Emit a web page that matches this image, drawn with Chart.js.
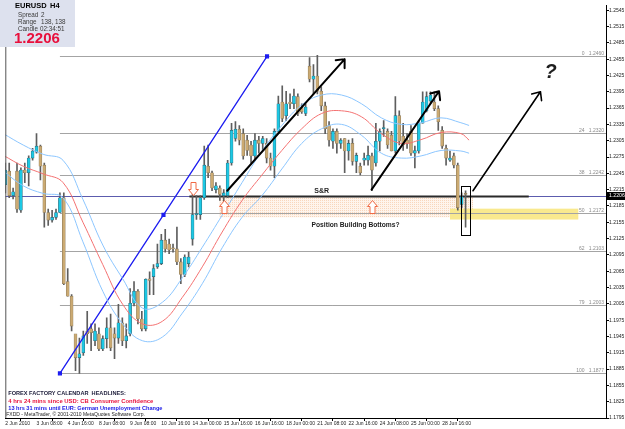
<!DOCTYPE html>
<html><head><meta charset="utf-8">
<script src="https://cdn.jsdelivr.net/npm/chart.js@4.4.1/dist/chart.umd.min.js"></script>
<style>html,body{margin:0;padding:0;background:#fff;overflow:hidden}#wrap{width:625px;height:429px;position:relative}</style>
</head><body><div id="wrap"><canvas id="c" width="625" height="429"></canvas></div>
<script>
// ---------- DATA ----------
const opens  = [1.2224,1.2249,1.2204,1.2249,1.2177,1.2251,1.2246,1.2273,1.2284,1.2295,1.2260,1.2173,1.2159,1.2164,1.2173,1.2200,1.2046,1.2019,1.1950,1.1906,1.1915,1.1955,1.1959,1.1937,1.1950,1.1922,1.1941,1.1961,1.1950,1.1942,1.1970,1.1937,1.1950,1.2006,1.2028,1.1977,1.1959,1.2051,1.2055,1.2073,1.2079,1.2122,1.2115,1.2108,1.2106,1.2082,1.2059,1.2079,1.2124,1.2169,1.2169,1.2200,1.2258,1.2246,1.2215,1.2218,1.2204,1.2204,1.2264,1.2309,1.2326,1.2318,1.2306,1.2297,1.2277,1.2306,1.2300,1.2300,1.2273,1.2258,1.2322,1.2376,1.2351,1.2376,1.2373,1.2386,1.2366,1.2355,1.2442,1.2418,1.2424,1.2396,1.2369,1.2333,1.2304,1.2322,1.2300,1.2309,1.2286,1.2300,1.2267,1.2258,1.2269,1.2269,1.2277,1.2264,1.2304,1.2327,1.2322,1.2315,1.2286,1.2351,1.2313,1.2306,1.2322,1.2282,1.2286,1.2337,1.2360,1.2378,1.2376,1.2364,1.2324,1.2291,1.2269,1.2277,1.2260,1.2188,1.2208];
const highs  = [1.2264,1.2264,1.2218,1.2264,1.2255,1.2264,1.2277,1.2291,1.2318,1.2297,1.2264,1.2179,1.2177,1.2179,1.2209,1.2209,1.2070,1.2022,1.1942,1.1942,1.1955,1.1991,1.1968,1.1968,1.1961,1.1946,1.1979,1.1986,1.1961,1.2004,1.1979,1.1968,1.2033,1.2046,1.2031,1.1991,1.2051,1.2064,1.2077,1.2115,1.2133,1.2142,1.2124,1.2115,1.2146,1.2088,1.2095,1.2100,1.2222,1.2204,1.2204,1.2295,1.2297,1.2249,1.2228,1.2222,1.2215,1.2269,1.2337,1.2340,1.2333,1.2327,1.2315,1.2304,1.2318,1.2313,1.2313,1.2309,1.2282,1.2327,1.2387,1.2406,1.2396,1.2391,1.2400,1.2391,1.2373,1.2373,1.2458,1.2445,1.2462,1.2404,1.2376,1.2340,1.2327,1.2327,1.2309,1.2309,1.2306,1.2309,1.2282,1.2264,1.2282,1.2295,1.2282,1.2337,1.2327,1.2342,1.2327,1.2322,1.2386,1.2360,1.2337,1.2318,1.2333,1.2295,1.2342,1.2395,1.2395,1.2395,1.2395,1.2369,1.2331,1.2297,1.2286,1.2282,1.2264,1.2209,1.2213];
const lows   = [1.2209,1.2200,1.2198,1.2173,1.2173,1.2228,1.2222,1.2269,1.2282,1.2233,1.2146,1.2149,1.2155,1.2160,1.2173,1.2040,1.2019,1.1955,1.1882,1.1877,1.1910,1.1932,1.1919,1.1928,1.1919,1.1919,1.1924,1.1919,1.1904,1.1932,1.1928,1.1924,1.1946,1.2001,1.1968,1.1955,1.1955,1.2022,1.2022,1.2070,1.2077,1.2100,1.2097,1.2100,1.2077,1.2042,1.2055,1.2073,1.2113,1.2160,1.2160,1.2197,1.2237,1.2213,1.2209,1.2195,1.2182,1.2200,1.2260,1.2304,1.2297,1.2271,1.2278,1.2264,1.2269,1.2282,1.2287,1.2264,1.2251,1.2237,1.2318,1.2340,1.2342,1.2364,1.2364,1.2351,1.2355,1.2351,1.2413,1.2391,1.2391,1.2360,1.2318,1.2295,1.2291,1.2282,1.2291,1.2246,1.2269,1.2260,1.2246,1.2242,1.2260,1.2260,1.2213,1.2258,1.2286,1.2313,1.2291,1.2286,1.2282,1.2297,1.2287,1.2291,1.2278,1.2255,1.2282,1.2337,1.2358,1.2373,1.2360,1.2324,1.2291,1.2260,1.2267,1.2255,1.2177,1.2182,1.2146];
const closes = [1.2251,1.2204,1.2211,1.2179,1.2251,1.2246,1.2273,1.2286,1.2295,1.2258,1.2173,1.2159,1.2164,1.2173,1.2200,1.2042,1.2019,1.1964,1.1906,1.1913,1.1946,1.1950,1.1952,1.1955,1.1922,1.1941,1.1961,1.1924,1.1942,1.1970,1.1937,1.1946,1.2006,1.2028,1.1977,1.1959,1.2050,1.2048,1.2070,1.2079,1.2122,1.2106,1.2104,1.2106,1.2082,1.2059,1.2091,1.2091,1.2169,1.2171,1.2200,1.2260,1.2246,1.2218,1.2222,1.2206,1.2209,1.2264,1.2324,1.2326,1.2306,1.2277,1.2287,1.2277,1.2306,1.2300,1.2309,1.2273,1.2258,1.2322,1.2373,1.2346,1.2373,1.2373,1.2387,1.2355,1.2358,1.2367,1.2418,1.2424,1.2396,1.2369,1.2327,1.2306,1.2322,1.2300,1.2306,1.2286,1.2300,1.2267,1.2278,1.2246,1.2273,1.2278,1.2251,1.2304,1.2322,1.2329,1.2297,1.2286,1.2351,1.2304,1.2297,1.2300,1.2282,1.2287,1.2337,1.2376,1.2386,1.2389,1.2364,1.2340,1.2295,1.2273,1.2273,1.2260,1.2182,1.2202,1.2206];

const xTickBars   = [0,8,16,24,32,40,48,56,64,72,80,88,96,104,112];
const xTickLabels = ["2 Jun 2010","3 Jun 08:00","4 Jun 16:00","8 Jun 08:00","9 Jun 08:00","10 Jun 16:00","14 Jun 00:00","15 Jun 16:00","16 Jun 16:00","18 Jun 00:00","21 Jun 08:00","22 Jun 16:00","24 Jun 08:00","25 Jun 00:00","28 Jun 16:00"];
const yTicks = [1.2545,1.2515,1.2485,1.2455,1.2425,1.2395,1.2365,1.2335,1.2305,1.2275,1.2245,1.2215,1.2185,1.2155,1.2125,1.2095,1.2065,1.2035,1.2005,1.1975,1.1945,1.1915,1.1885,1.1855,1.1825,1.1795];

const bandX     = [-0.5,4.6,9.7,14.8,19.9,25.0,30.1,35.2,40.3,45.4,50.5,55.6,60.7,65.8,70.9,76.0,81.1,86.2,91.3,96.4,101.5,106.6,111.7,116.8,118.9];
const bandMid   = [1.2278,1.2258,1.2244,1.2228,1.2155,1.2077,1.2004,1.1968,1.1973,1.2017,1.2073,1.2137,1.2195,1.2242,1.2287,1.2327,1.2355,1.2360,1.2349,1.2318,1.2300,1.2307,1.2320,1.2318,1.2306];
const bandUpper = [1.2318,1.2297,1.2280,1.2269,1.2197,1.2113,1.2051,1.1997,1.2008,1.2053,1.2109,1.2168,1.2228,1.2286,1.2333,1.2371,1.2389,1.2389,1.2373,1.2347,1.2335,1.2338,1.2347,1.2338,1.2333];
const bandLower = [1.2249,1.2222,1.2208,1.2200,1.2119,1.2028,1.1968,1.1937,1.1944,1.1988,1.2042,1.2108,1.2164,1.2204,1.2253,1.2300,1.2327,1.2335,1.2315,1.2282,1.2273,1.2277,1.2287,1.2286,1.2282];

const fibLevels = [1.2460,1.2320,1.2242,1.2172,1.2103,1.2003,1.1877];
const fibNames  = ["0","24","38","50","62","79","100"];
const currentPrice = 1.2206;
const srLevel = 1.2203;

// ---------- ANNOTATION PLACEMENT (data units: bar index, price) ----------
const fibStartBar = 14.0, fibEndBar = 67.1;
const srRange = [47.2, 134.2];
const orangeZone = {x0:54.8, x1:119.9, y0:1.2202, y1:1.2164};
const yellowZone = {x0:114.0, x1:146.9, y0:1.2180, y1:1.2160};
const focusBox   = {x0:116.8, x1:119.1, y0:1.2222, y1:1.2131};
const blackArrows = [
  {from:[56.9,1.2213], to:[87.0,1.2455], w:2},
  {from:[93.9,1.2215], to:[111.2,1.2396], w:2},
  {from:[119.9,1.2213], to:[137.2,1.2395], w:1.6}
];
const hollowArrows = [
  {at:[48.0,1.2206], dir:'down'},
  {at:[56.1,1.2196], dir:'up'},
  {at:[93.9,1.2196], dir:'up'}
];
const notes = [
  {text:'S&R', at:[81.1,1.2213], font:'bold 7px "Liberation Sans", Arial, sans-serif'},
  {text:'Position Building Bottoms?', at:[89.8,1.2149], font:'bold 6.7px "Liberation Sans", Arial, sans-serif'},
  {text:'?', at:[139.8,1.2430], font:'italic bold 20px "Liberation Sans", Arial, sans-serif'}
];

// ---------- BUILD ----------
const idx = opens.map((_, i) => i);
const wickData = idx.map(i => ({x:i, y:[lows[i], highs[i]]}));
const bodyData = idx.map(i => ({x:i, y:[opens[i], closes[i]]}));
const bodyFill = idx.map(i => closes[i] >= opens[i] ? '#1cc8e4' : '#cbaa72');
const bodyLine = idx.map(i => closes[i] >= opens[i] ? '#2f6b7a' : '#8e7c5c');
const band = arr => bandX.map((x, i) => ({x, y:arr[i]}));
const trendData = [
  {x:fibStartBar, y:fibLevels[fibLevels.length-1]},
  {x:(fibStartBar+fibEndBar)/2, y:(fibLevels[0]+fibLevels[fibLevels.length-1])/2},
  {x:fibEndBar, y:fibLevels[0]}
];

const FONT = '"Liberation Sans", Arial, sans-serif';

const overlay = {
  id:'overlay',
  beforeDatasetsDraw(chart){
    const {ctx, chartArea:a, scales:{x, y}} = chart;
    ctx.save();
    ctx.beginPath(); ctx.rect(a.left, a.top, a.right-a.left, a.bottom-a.top); ctx.clip();
    // dotted peach zone
    const pc = document.createElement('canvas'); pc.width = 2; pc.height = 2;
    const p = pc.getContext('2d'); p.fillStyle = '#fef4ec'; p.fillRect(0,0,2,2); p.fillStyle = '#f8d6bc'; p.fillRect(0,0,1,1);
    ctx.fillStyle = ctx.createPattern(pc, 'repeat');
    let X0 = x.getPixelForValue(orangeZone.x0), X1 = x.getPixelForValue(orangeZone.x1);
    let Y0 = y.getPixelForValue(orangeZone.y0), Y1 = y.getPixelForValue(orangeZone.y1);
    ctx.fillRect(X0, Y0, X1-X0, Y1-Y0);
    // yellow zone
    X0 = x.getPixelForValue(yellowZone.x0); X1 = x.getPixelForValue(yellowZone.x1);
    Y0 = y.getPixelForValue(yellowZone.y0); Y1 = y.getPixelForValue(yellowZone.y1);
    ctx.fillStyle = '#f9e98e'; ctx.fillRect(X0, Y0, X1-X0, Y1-Y0);
    // fib levels
    const fx = x.getPixelForValue(fibStartBar);
    ctx.lineWidth = 1; ctx.strokeStyle = '#a4a4a4';
    ctx.font = '5px ' + FONT; ctx.fillStyle = '#8a8a8a'; ctx.textAlign = 'right'; ctx.textBaseline = 'bottom';
    fibLevels.forEach((v, i) => {
      const py = Math.round(y.getPixelForValue(v)) + 0.5;
      ctx.beginPath(); ctx.moveTo(fx, py); ctx.lineTo(a.right, py); ctx.stroke();
      ctx.fillText(fibNames[i] + '   ' + v.toFixed(4), a.right - 2, py - 0.5);
    });
    // blue horizontal line
    const sy = Math.round(y.getPixelForValue(srLevel)) + 0.5;
    ctx.strokeStyle = '#5c5cae'; ctx.lineWidth = 1;
    ctx.beginPath(); ctx.moveTo(a.left, sy); ctx.lineTo(a.right, sy); ctx.stroke();
    // S&R line
    ctx.strokeStyle = '#2a2a2a'; ctx.lineWidth = 2;
    ctx.beginPath(); ctx.moveTo(x.getPixelForValue(srRange[0]), sy); ctx.lineTo(x.getPixelForValue(srRange[1]), sy); ctx.stroke();
    ctx.restore();
  },
  afterDatasetsDraw(chart){
    const {ctx, chartArea:a, scales:{x, y}} = chart;
    ctx.save();
    ctx.beginPath(); ctx.rect(a.left, a.top, a.right-a.left, a.bottom-a.top); ctx.clip();
    // black arrows
    ctx.strokeStyle = '#000'; ctx.lineCap = 'round'; ctx.lineJoin = 'round';
    blackArrows.forEach(ar => {
      const x0 = x.getPixelForValue(ar.from[0]), y0 = y.getPixelForValue(ar.from[1]);
      const x1 = x.getPixelForValue(ar.to[0]),   y1 = y.getPixelForValue(ar.to[1]);
      const ang = Math.atan2(y1-y0, x1-x0), h = 9, s = 0.72;
      ctx.lineWidth = ar.w;
      ctx.beginPath(); ctx.moveTo(x0, y0); ctx.lineTo(x1, y1);
      ctx.moveTo(x1 - h*Math.cos(ang - s), y1 - h*Math.sin(ang - s)); ctx.lineTo(x1, y1);
      ctx.lineTo(x1 - h*Math.cos(ang + s), y1 - h*Math.sin(ang + s));
      ctx.stroke();
    });
    // hollow arrows
    ctx.lineWidth = 1; ctx.strokeStyle = '#f06a45'; ctx.fillStyle = '#ffffff'; ctx.lineCap = 'butt'; ctx.lineJoin = 'miter';
    hollowArrows.forEach(h => {
      const cx = Math.round(x.getPixelForValue(h.at[0])) + 0.5, ty = Math.round(y.getPixelForValue(h.at[1])) + 0.5;
      const d = h.dir === 'up' ? 1 : -1;
      ctx.beginPath();
      ctx.moveTo(cx, ty);
      ctx.lineTo(cx + 5, ty + d*6);
      ctx.lineTo(cx + 2.5, ty + d*6);
      ctx.lineTo(cx + 2.5, ty + d*13);
      ctx.lineTo(cx - 2.5, ty + d*13);
      ctx.lineTo(cx - 2.5, ty + d*6);
      ctx.lineTo(cx - 5, ty + d*6);
      ctx.closePath(); ctx.fill(); ctx.stroke();
    });
    // focus box
    ctx.strokeStyle = '#000'; ctx.lineWidth = 1;
    {
      const X0 = Math.round(x.getPixelForValue(focusBox.x0)) + 0.5, X1 = Math.round(x.getPixelForValue(focusBox.x1)) + 0.5;
      const Y0 = Math.round(y.getPixelForValue(focusBox.y0)) + 0.5, Y1 = Math.round(y.getPixelForValue(focusBox.y1)) + 0.5;
      ctx.strokeRect(X0, Y0, X1-X0, Y1-Y0);
    }
    // notes
    ctx.fillStyle = '#1e1e1e'; ctx.textAlign = 'center'; ctx.textBaseline = 'middle';
    notes.forEach(n => { ctx.font = n.font; ctx.fillText(n.text, x.getPixelForValue(n.at[0]), y.getPixelForValue(n.at[1])); });
    // bottom-left headlines
    ctx.textAlign = 'left';
    ctx.fillStyle = '#1c1c3a'; ctx.font = 'bold 5.6px ' + FONT; ctx.fillText('FOREX FACTORY CALENDAR  HEADLINES:', a.left + 3, 393);
    ctx.fillStyle = '#e8113c'; ctx.font = 'bold 5.9px ' + FONT; ctx.fillText('4 hrs 24 mins since USD: CB Consumer Confidence', a.left + 3, 401);
    ctx.fillStyle = '#1717e6'; ctx.font = 'bold 5.6px ' + FONT; ctx.fillText('13 hrs 31 mins until EUR: German Unemployment Change', a.left + 3, 408);
    ctx.fillStyle = '#222'; ctx.font = '5px ' + FONT; ctx.fillText('FXDD - MetaTrader, \u00a9 2001-2010 MetaQuotes Software Corp.', a.left + 1, 415);
    ctx.restore();
  },
  afterDraw(chart){
    const {ctx, chartArea:a, scales:{y}} = chart;
    ctx.save();
    ctx.strokeStyle = '#555'; ctx.lineWidth = 1;
    ctx.beginPath(); ctx.moveTo(a.left + 0.5, a.top); ctx.lineTo(a.left + 0.5, a.bottom); ctx.stroke();
    // info box
    ctx.fillStyle = '#dde1ee'; ctx.fillRect(0, 0, 75, 47);
    ctx.textBaseline = 'middle'; ctx.textAlign = 'left';
    ctx.fillStyle = '#000'; ctx.font = 'bold 7.5px ' + FONT;
    ctx.fillText('EURUSD', 15, 6); ctx.fillText('H4', 50, 6);
    ctx.fillStyle = '#3a3a3a'; ctx.font = '6.3px ' + FONT;
    ctx.fillText('Spread', 18, 15); ctx.fillText('2', 41, 15);
    ctx.fillText('Range', 18, 22); ctx.fillText('138, 138', 41, 22);
    ctx.fillText('Candle', 18, 29); ctx.fillText('02:34:51', 40, 29);
    ctx.fillStyle = '#e8103c'; ctx.font = 'bold 15px ' + FONT;
    ctx.fillText(currentPrice.toFixed(4), 14, 39);
    // current price tag
    const py = Math.round(y.getPixelForValue(currentPrice));
    ctx.fillStyle = '#000'; ctx.fillRect(a.right + 1, py - 3, 18, 8);
    ctx.fillStyle = '#fff'; ctx.font = '5.2px ' + FONT; ctx.textBaseline = 'middle';
    ctx.fillText(currentPrice.toFixed(4), a.right + 3, py + 1);
    ctx.restore();
  }
};

Chart.defaults.font.family = FONT;
new Chart(document.getElementById('c'), {
  type:'bar',
  data:{
    datasets:[
      {type:'line', data:band(bandUpper), borderColor:'#8cc6ff', borderWidth:1, pointRadius:0, tension:0.4, order:0},
      {type:'line', data:band(bandMid),   borderColor:'#f47272', borderWidth:1, pointRadius:0, tension:0.4, order:0},
      {type:'line', data:band(bandLower), borderColor:'#8cc6ff', borderWidth:1, pointRadius:0, tension:0.4, order:0},
      {type:'line', data:trendData, borderColor:'#1c1cf0', borderWidth:1.3, pointStyle:'rect', pointRadius:2, pointBackgroundColor:'#1c1cf0', pointBorderColor:'#1c1cf0', tension:0, order:1},
      {type:'bar', data:bodyData, backgroundColor:bodyFill, borderColor:bodyLine, borderWidth:0.6, barThickness:3, minBarLength:1, grouped:false, order:2, borderSkipped:false},
      {type:'bar', data:wickData, backgroundColor:'#5e5e5e', barThickness:1, grouped:false, order:3}
    ]
  },
  options:{
    responsive:false, animation:false, devicePixelRatio:1,
    layout:{padding:{left:2, right:0, top:0, bottom:0}},
    plugins:{legend:{display:false}, tooltip:{enabled:false}},
    scales:{
      x:{
        type:'linear', min:0, max:154, offset:false,
        grid:{display:true, drawOnChartArea:false, drawTicks:true, tickLength:3, color:'#000'},
        border:{display:true, color:'#000'},
        afterBuildTicks:s => { s.ticks = xTickBars.map(v => ({value:v})); },
        afterFit:s => { s.height = 11; s.paddingLeft = 0; s.paddingRight = 0; },
        ticks:{autoSkip:false, maxRotation:0, minRotation:0, align:'start', padding:0, color:'#222', font:{size:5, family:FONT},
          callback:(v, i) => xTickLabels[i]}
      },
      y:{
        type:'linear', position:'right', min:1.1795, max:1.2554,
        grid:{display:true, drawOnChartArea:false, drawTicks:true, tickLength:3, color:'#000'},
        border:{display:true, color:'#000'},
        afterBuildTicks:s => { s.ticks = yTicks.map(v => ({value:v})); },
        afterFit:s => { s.width = 19; s.paddingTop = 0; s.paddingBottom = 0; },
        ticks:{autoSkip:false, padding:0, color:'#222', font:{size:5, family:FONT}, callback:v => Number(v).toFixed(4)}
      }
    }
  },
  plugins:[overlay]
});
</script></body></html>
